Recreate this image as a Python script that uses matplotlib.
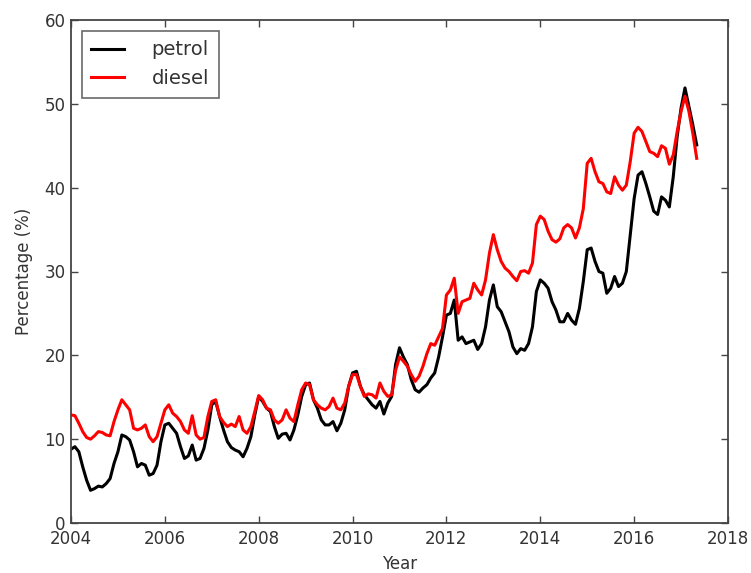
import matplotlib
matplotlib.use("Agg")
import matplotlib.pyplot as plt
import numpy as np

start_year = 2004
petrol = [8.8, 9.1, 8.5, 6.7, 5.1, 3.9, 4.1, 4.4, 4.3, 4.7, 5.3, 7.1,
          8.5, 10.5, 10.3, 9.9, 8.5, 6.7, 7.1, 6.9, 5.7, 5.9, 6.9, 9.7,
          11.7, 11.9, 11.3, 10.7, 9.1, 7.7, 8.0, 9.3, 7.5, 7.7, 8.9, 11.1,
          14.1, 14.5, 12.7, 11.1, 9.7, 9.0, 8.7, 8.5, 7.9, 8.9, 10.3, 12.9,
          15.1, 14.5, 13.7, 13.3, 11.5, 10.1, 10.6, 10.7, 9.9, 11.1, 12.9, 15.1,
          16.5, 16.7, 14.7, 13.7, 12.3, 11.7, 11.7, 12.1, 11.0, 11.9, 13.5, 16.3,
          17.9, 18.1, 16.3, 15.3, 14.7, 14.1, 13.7, 14.5, 13.0, 14.3, 15.1, 18.9,
          20.9, 19.8, 18.9, 17.1, 15.9, 15.6, 16.1, 16.5, 17.3, 17.9, 19.8, 22.2,
          24.8, 25.0, 26.6, 21.8, 22.2, 21.4, 21.6, 21.8, 20.7, 21.4, 23.4, 26.6,
          28.4, 25.8, 25.2, 24.0, 22.8, 21.0, 20.2, 20.8, 20.6, 21.4, 23.4, 27.6,
          29.0, 28.6, 28.0, 26.4, 25.4, 24.0, 24.0, 25.0, 24.2, 23.7, 25.6, 28.8,
          32.6, 32.8, 31.2, 30.0, 29.8, 27.4, 28.0, 29.4, 28.2, 28.6, 30.0, 34.4,
          38.7, 41.5, 41.9, 40.5, 38.9, 37.2, 36.8, 38.9, 38.5, 37.7, 41.3, 46.1,
          49.5, 51.9, 49.7, 47.5, 45.1]
diesel = [12.9, 12.8, 11.9, 10.9, 10.2, 10.0, 10.4, 10.9, 10.8, 10.5, 10.4, 12.1,
          13.5, 14.7, 14.1, 13.5, 11.3, 11.1, 11.3, 11.7, 10.3, 9.7, 10.3, 11.9,
          13.5, 14.1, 13.1, 12.7, 12.1, 11.1, 10.7, 12.8, 10.5, 10.0, 10.2, 12.7,
          14.5, 14.7, 12.7, 12.0, 11.5, 11.8, 11.5, 12.7, 11.1, 10.7, 11.5, 13.3,
          15.2, 14.7, 13.7, 13.5, 12.3, 11.9, 12.3, 13.5, 12.5, 12.1, 14.1, 15.9,
          16.7, 16.5, 14.7, 14.1, 13.7, 13.5, 13.9, 14.9, 13.7, 13.5, 14.3, 16.3,
          17.7, 17.7, 16.3, 15.1, 15.4, 15.3, 14.9, 16.7, 15.7, 15.1, 15.3, 18.2,
          19.8, 19.3, 18.7, 17.7, 16.9, 17.5, 18.7, 20.2, 21.4, 21.2, 22.2, 23.2,
          27.2, 27.8, 29.2, 25.0, 26.4, 26.6, 26.8, 28.6, 27.8, 27.2, 29.0, 32.2,
          34.4, 32.6, 31.2, 30.4, 30.0, 29.4, 28.9, 30.0, 30.1, 29.8, 31.0, 35.6,
          36.6, 36.2, 34.8, 33.8, 33.5, 33.9, 35.2, 35.6, 35.2, 34.0, 35.2, 37.5,
          42.9, 43.5, 41.9, 40.7, 40.5, 39.5, 39.3, 41.3, 40.3, 39.7, 40.3, 43.1,
          46.5, 47.2, 46.7, 45.5, 44.3, 44.1, 43.7, 45.0, 44.7, 42.8, 43.9, 46.7,
          49.1, 50.9, 49.1, 46.5, 43.5]
labels = ["petrol", "diesel"]
xticks = [2004, 2006, 2008, 2010, 2012, 2014, 2016, 2018]
yticks = [0, 10, 20, 30, 40, 50, 60]

years = start_year + np.arange(len(petrol)) / 12.0

plt.rcParams['font.family'] = ['DejaVu Sans']
txt = '#333333'
fig = plt.figure(figsize=(7.51, 5.73), dpi=100)
ax = fig.add_axes([71/751, 1-523/573, (728-71)/751, (523-20)/573])
ax.plot(years, petrol, color='black', lw=2.2, label=labels[0])
ax.plot(years, diesel, color='#ff0000', lw=2.2, label=labels[1])
ax.set_xlim(2004, 2018)
ax.set_ylim(0, 60)
ax.set_xticks(xticks)
ax.set_yticks(yticks)
ax.tick_params(direction='in', top=True, right=True, length=5, width=1,
               labelsize=12, labelcolor=txt, color='#444444')
ax.tick_params(axis='x', pad=5)
ax.tick_params(axis='y', pad=4)
for s in ax.spines.values():
    s.set_color('#444444')
    s.set_linewidth(1.3)
ax.set_xlabel('Year', fontsize=12, color=txt, labelpad=5)
ax.set_ylabel('Percentage (%)', fontsize=12, color=txt, labelpad=8)
leg = ax.legend(loc='upper left', fontsize=14, frameon=True, fancybox=False,
                edgecolor='#444444', handlelength=1.7, handletextpad=1.4,
                borderaxespad=0.55, borderpad=0.5, labelspacing=0.5)
leg.get_frame().set_linewidth(1.2)
for t in leg.get_texts():
    t.set_color(txt)
fig.savefig('out.png', dpi=100)
